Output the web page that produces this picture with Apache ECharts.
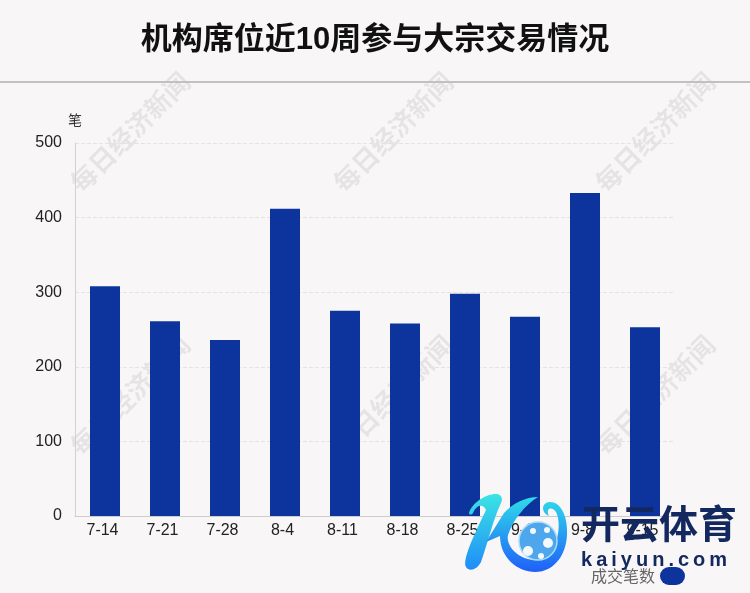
<!DOCTYPE html>
<html><head><meta charset="utf-8">
<style>html,body{margin:0;padding:0;background:#f9f6f8}#c{width:750px;height:593px}</style>
<script src="https://cdn.jsdelivr.net/npm/echarts@6/dist/echarts.min.js"></script></head>
<body><div id="c"></div>
<script>
const categories=['7-14','7-21','7-28','8-4','8-11','8-18','8-25','9-1','9-8','9-15'];
const values=[308,261,236,412,275,258,298,267,433,253];
const titleText='机构席位近10周参与大宗交易情况';
const seriesName='成交笔数';
const unitName='笔';
const stampText='每日经济新闻';
const stampCentres=[[130,132],[393,132],[655,132],[130,395],[393,395],[655,395]];
const cjk='"Noto Sans CJK SC","Liberation Sans",sans-serif';
const latinFirst='"Liberation Sans","Noto Sans CJK SC",sans-serif';
echarts.graphic.registerShape('kStem',echarts.graphic.extendPath('M469 513 C472 502 488 493 497 494 C502 495 503 499 501 503 C493 520 488 542 481 562 C477 570 469 572 466 567 C462 560 474 535 486 510 C483 503 476 505 473 513 C472 515 469 515 469 513 Z',{}));
echarts.graphic.registerShape('kArm',echarts.graphic.extendPath('M538 497 C526 497 513 503 504 513 L486 542 L500 536 C500 558 518 572 535 572 C555 572 568 553 567 530 C567 515 560 501 549 502 C541 503 541 513 549 516 C545 508 552 506 556 512 C561 522 560 545 545 558 C525 566 505 548 508 535 C513 520 525 505 538 497 Z',{}));
const chart=echarts.init(document.getElementById('c'),null,{renderer:'canvas'});
const stamps=stampCentres.map(p=>({type:'text',x:p[0],y:p[1],rotation:Math.PI/4,z:-1,silent:true,
  style:{text:stampText,font:'bold 26px '+cjk,fill:'rgba(0,0,0,0.075)',align:'center',verticalAlign:'middle'}}));
const grad=(a,b)=>new echarts.graphic.LinearGradient(0,0,0,1,[{offset:0,color:a},{offset:1,color:b}]);
const patch=(x,y,r)=>({type:'circle',shape:{cx:x,cy:y,r:r},z:22,silent:true,style:{fill:'#f3f8fd'}});
const logo=[
 {type:'kStem',z:20,silent:true,style:{fill:grad('#3be4e4','#1f8cf8')}},
 {type:'kArm',z:20,silent:true,style:{fill:grad('#30dcea','#1f5ff8')}},
 {type:'circle',shape:{cx:538,cy:541,r:19},z:21,silent:true,style:{fill:'#4ea6ec',stroke:'#a8dcf8',lineWidth:1.5}},
 patch(528,551,5),patch(548,543,5),patch(533,531,3),patch(541,556,3),patch(547,530,3),
 {type:'text',x:581,y:523,z:20,silent:true,style:{text:'开云体育',font:'bold 39px '+cjk,fill:'#12285f',verticalAlign:'middle'}},
 {type:'text',x:581,y:560,z:20,silent:true,style:{text:'k\u2009a\u2009i\u2009y\u2009u\u2009n\u2009.\u2009c\u2009o\u2009m',font:'bold 20px "Liberation Sans",sans-serif',fill:'#12285f',verticalAlign:'middle'}}
];
chart.setOption({
 animation:false,
 backgroundColor:'#f9f6f8',
 title:{text:titleText,left:'center',top:20,textStyle:{fontFamily:latinFirst,fontSize:31,fontWeight:'bold',color:'#111'}},
 graphic:[{type:'line',shape:{x1:0,y1:82,x2:750,y2:82},z:1,silent:true,style:{stroke:'#c2c0c0',lineWidth:2}},...stamps,...logo],
 legend:{right:60,bottom:3,itemWidth:25,itemHeight:18,itemGap:4,icon:'path://M9 0H16A9 9 0 0 1 16 18H9A9 9 0 0 1 9 0Z',align:'right',
   textStyle:{fontFamily:cjk,fontSize:16,color:'#666',padding:[0,0,3,0]},data:[seriesName]},
 grid:{left:75,right:75,top:143,bottom:77},
 xAxis:{type:'category',data:categories,axisTick:{show:false},
   axisLine:{lineStyle:{color:'#ccc',width:1}},
   axisLabel:{margin:7,color:'#222',fontSize:16,fontFamily:'"Liberation Sans",sans-serif',padding:[0,5,0,0]}},
 yAxis:{type:'value',min:0,max:500,interval:100,name:unitName,nameLocation:'end',nameGap:16,
   nameTextStyle:{fontFamily:cjk,fontSize:14,color:'#333',align:'center'},
   axisLine:{show:true,lineStyle:{color:'#d2d0d0'}},axisTick:{show:false},
   axisLabel:{margin:13,color:'#222',fontSize:16,fontFamily:'"Liberation Sans",sans-serif'},
   splitLine:{lineStyle:{color:'#e4e2e2',type:'dashed'}}},
 series:[{name:seriesName,type:'bar',data:values,barWidth:30,itemStyle:{color:'#0c349c'}}]
});
</script></body></html>
